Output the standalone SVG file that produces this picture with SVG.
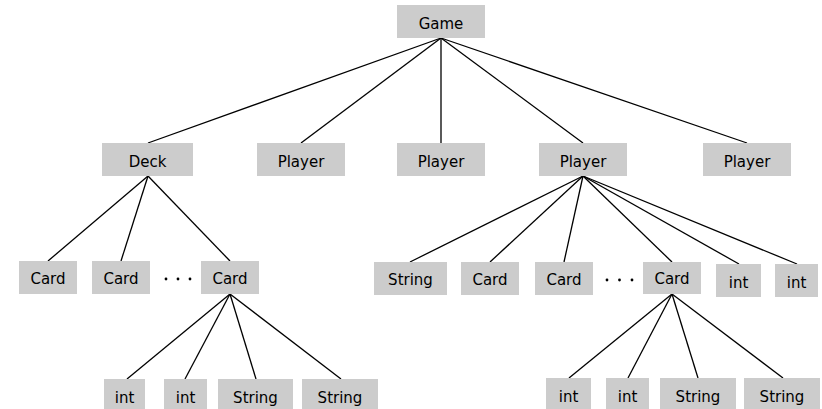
<svg xmlns="http://www.w3.org/2000/svg" width="822" height="409" viewBox="0 0 822 409">
<style>
rect{fill:#cccccc}
text{font-family:"DejaVu Sans",sans-serif;font-size:15px;fill:#000;text-anchor:middle}
#edges line{stroke:#000;stroke-width:1.3}
.dot{fill:#000}
</style>
<rect x="0" y="0" width="822" height="409" style="fill:#fff"/>
<g id="edges">
<line x1="441" y1="38" x2="148" y2="143"/>
<line x1="441" y1="38" x2="301" y2="143"/>
<line x1="441" y1="38" x2="441" y2="143"/>
<line x1="441" y1="38" x2="583" y2="143"/>
<line x1="441" y1="38" x2="747" y2="143"/>
<line x1="148" y1="176" x2="48" y2="261"/>
<line x1="148" y1="176" x2="121" y2="261"/>
<line x1="148" y1="176" x2="230" y2="261"/>
<line x1="583" y1="176" x2="410" y2="262"/>
<line x1="583" y1="176" x2="490" y2="262"/>
<line x1="583" y1="176" x2="564" y2="262"/>
<line x1="583" y1="176" x2="672" y2="262"/>
<line x1="583" y1="176" x2="739" y2="264"/>
<line x1="583" y1="176" x2="797" y2="264"/>
<line x1="230" y1="294" x2="127" y2="379"/>
<line x1="230" y1="294" x2="185" y2="379"/>
<line x1="230" y1="294" x2="256" y2="379"/>
<line x1="230" y1="294" x2="341" y2="379"/>
<line x1="672" y1="294" x2="569" y2="378"/>
<line x1="672" y1="294" x2="628" y2="378"/>
<line x1="672" y1="294" x2="698" y2="378"/>
<line x1="672" y1="294" x2="783" y2="378"/>
</g>
<g id="game"><rect x="397" y="5" width="88" height="33"/><text x="441" y="29">Game</text></g>
<g id="deck"><rect x="102" y="143" width="91" height="33"/><text x="147.5" y="167">Deck</text></g>
<g id="player1"><rect x="257" y="143" width="88" height="33"/><text x="301" y="167">Player</text></g>
<g id="player2"><rect x="397" y="143" width="88" height="33"/><text x="441" y="167">Player</text></g>
<g id="player3"><rect x="539" y="143" width="88" height="33"/><text x="583" y="167">Player</text></g>
<g id="player4"><rect x="703" y="143" width="88" height="33"/><text x="747" y="167">Player</text></g>
<g id="card1"><rect x="19" y="261" width="58" height="33"/><text x="48" y="284">Card</text></g>
<g id="card2"><rect x="92" y="261" width="58" height="33"/><text x="121" y="284">Card</text></g>
<g id="dots1"><circle class="dot" cx="166" cy="279" r="1.4"/><circle class="dot" cx="178" cy="279" r="1.4"/><circle class="dot" cx="190" cy="279" r="1.4"/></g>
<g id="card3"><rect x="201" y="261" width="58" height="33"/><text x="230" y="284">Card</text></g>
<g id="int1"><rect x="104" y="379" width="41" height="30"/><text x="124.5" y="403">int</text></g>
<g id="int2"><rect x="164" y="379" width="43" height="30"/><text x="185.5" y="403">int</text></g>
<g id="string1"><rect x="218" y="379" width="75" height="30"/><text x="255.5" y="403">String</text></g>
<g id="string2"><rect x="302" y="379" width="76" height="30"/><text x="340" y="403">String</text></g>
<g id="string3"><rect x="374" y="262" width="73" height="33"/><text x="410.5" y="285">String</text></g>
<g id="card4"><rect x="461" y="262" width="58" height="33"/><text x="490" y="285">Card</text></g>
<g id="card5"><rect x="535" y="262" width="58" height="33"/><text x="564" y="285">Card</text></g>
<g id="dots2"><circle class="dot" cx="607" cy="280" r="1.4"/><circle class="dot" cx="619.5" cy="280" r="1.4"/><circle class="dot" cx="632" cy="280" r="1.4"/></g>
<g id="card6"><rect x="643" y="262" width="58" height="32"/><text x="672" y="284">Card</text></g>
<g id="int3"><rect x="716" y="264" width="45" height="33"/><text x="738.5" y="288">int</text></g>
<g id="int4"><rect x="775" y="264" width="43" height="33"/><text x="796.5" y="288">int</text></g>
<g id="int5"><rect x="546" y="378" width="45" height="31"/><text x="568.5" y="402">int</text></g>
<g id="int6"><rect x="606" y="378" width="43" height="31"/><text x="627.5" y="402">int</text></g>
<g id="string4"><rect x="660" y="378" width="76" height="31"/><text x="698" y="402">String</text></g>
<g id="string5"><rect x="744" y="378" width="76" height="31"/><text x="782" y="402">String</text></g>
</svg>
